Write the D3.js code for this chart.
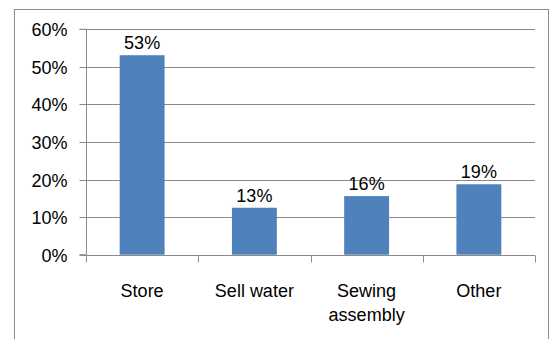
<!DOCTYPE html>
<html><head><meta charset="utf-8">
<script src="https://cdn.jsdelivr.net/npm/d3@7"></script>
<style>
html,body{margin:0;padding:0;background:#fff;}
svg{display:block;}
text{font-family:"Liberation Sans",Arial,sans-serif;}
</style></head>
<body>
<svg id="c" width="553" height="339"></svg>
<script>
const categories = ["Store", "Sell water", "Sewing assembly", "Other"];
const values = [0.531, 0.125, 0.156, 0.1875];
const yTicks = [0, 0.1, 0.2, 0.3, 0.4, 0.5, 0.6];

const svg = d3.select("#c");
const fs = 18;

// outer border
svg.append("rect").attr("x", 14.5).attr("y", 9.5).attr("width", 534).attr("height", 340)
  .attr("fill", "#fff").attr("stroke", "#8c8c8c").attr("stroke-width", 1);

const x0 = 86, x1 = 535, y0 = 254.7, y1 = 29.3;
const x = d3.scaleBand().domain(categories).range([x0, x1]).paddingInner(0.6).paddingOuter(0.3);
const y = d3.scaleLinear().domain([0, 0.6]).range([y0, y1]);

// gridlines
svg.append("g").selectAll("line").data(yTicks.filter(d => d > 0)).join("line")
  .attr("x1", x0).attr("x2", x1)
  .attr("y1", d => Math.round(y(d)) + 0.5).attr("y2", d => Math.round(y(d)) + 0.5)
  .attr("stroke", "#8a8a8a").attr("stroke-width", 1);

// y axis
const yAxis = d3.axisLeft(y).tickValues(yTicks).tickFormat(d3.format(".0%")).tickSize(7).tickPadding(12);
const gy = svg.append("g").attr("transform", `translate(${x0 + 0.5},0)`).call(yAxis);
gy.select(".domain").attr("stroke", "#8a8a8a").attr("d", `M-7,${y0}H0V${y1}H-7`);
gy.selectAll(".tick line").attr("stroke", "#8a8a8a");
gy.selectAll(".tick").attr("transform", d => `translate(0,${Math.round(y(d)) + 0.5})`);
gy.selectAll(".tick text").attr("font-size", fs).attr("fill", "#000")
  .attr("font-family", '"Liberation Sans",Arial,sans-serif').attr("dy", "0.35em");

// x axis
const xb = d3.scaleLinear().domain([0, categories.length]).range([x0, x1]);
const gx = svg.append("g").attr("transform", `translate(0,${Math.round(y0) + 0.5})`);
gx.append("line").attr("x1", x0).attr("x2", x1).attr("stroke", "#8a8a8a");
gx.selectAll("line.t").data(d3.range(categories.length + 1)).join("line").attr("class", "t")
  .attr("x1", d => Math.round(xb(d)) + 0.5).attr("x2", d => Math.round(xb(d)) + 0.5)
  .attr("y1", 0).attr("y2", 7).attr("stroke", "#8a8a8a");

// bars
svg.append("g").selectAll("rect").data(values).join("rect")
  .attr("x", (d, i) => x(categories[i]))
  .attr("width", x.bandwidth())
  .attr("y", d => y(d))
  .attr("height", d => y0 - y(d))
  .attr("fill", "#4F81BD");

// data labels
svg.append("g").selectAll("text").data(values).join("text")
  .attr("x", (d, i) => x(categories[i]) + x.bandwidth() / 2)
  .attr("y", d => y(d) - 6)
  .attr("text-anchor", "middle").attr("font-size", fs).attr("fill", "#000")
  .text(d => d3.format(".0%")(d));

// category labels
const cl = svg.append("g").selectAll("text").data(categories).join("text")
  .attr("x", d => x(d) + x.bandwidth() / 2)
  .attr("y", 297)
  .attr("text-anchor", "middle").attr("font-size", fs).attr("fill", "#000");
cl.each(function(d) {
  const t = d3.select(this);
  const parts = d === "Sewing assembly" ? ["Sewing", "assembly"] : [d];
  parts.forEach((p, k) => t.append("tspan").attr("x", t.attr("x")).attr("dy", k ? 24 : 0).text(p));
});
</script>
</body></html>
